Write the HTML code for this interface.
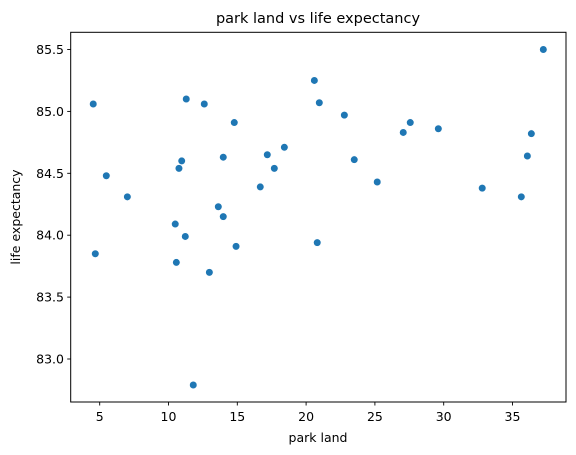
<!DOCTYPE html>
<html><head><meta charset="utf-8"><style>
html,body{margin:0;padding:0;background:#fff}
svg{display:block;font-family:"DejaVu Sans","Liberation Sans",sans-serif}
</style></head><body>
<svg id="chart" width="576" height="455" viewBox="0 0 576 455">
<text x="318" y="23" text-anchor="middle" font-size="14.5" fill="#000">park land vs life expectancy</text>
<text x="318" y="442" text-anchor="middle" font-size="12.5" fill="#000">park land</text>
<text transform="translate(20,217) rotate(-90)" text-anchor="middle" font-size="12.5" fill="#000">life expectancy</text>
<g id="ticks"></g>
<g id="points"></g>
<rect x="70.7" y="32.3" width="495.3" height="369.7" fill="none" stroke="#000" stroke-width="1"/>
</svg>
<script>
const parkLand = [4.53,11.29,12.60,14.78,10.96,13.98,10.76,5.48,7.01,13.62,13.98,10.49,11.22,14.91,4.68,10.57,12.97,11.80,
  37.24,20.60,20.96,22.78,27.57,27.06,29.61,36.37,36.08,18.42,17.18,17.69,23.50,16.67,25.17,32.80,35.64,20.81];
const lifeExpectancy = [85.06,85.10,85.06,84.91,84.60,84.63,84.54,84.48,84.31,84.23,84.15,84.09,83.99,83.91,83.85,83.78,83.70,82.79,
  85.50,85.25,85.07,84.97,84.91,84.83,84.86,84.82,84.64,84.71,84.65,84.54,84.61,84.39,84.43,84.38,84.31,83.94];
const xTicks = [5,10,15,20,25,30,35];
const yTicks = [83.0,83.5,84.0,84.5,85.0,85.5];
const yTickLabels = ["83.0","83.5","84.0","84.5","85.0","85.5"];

const NS = "http://www.w3.org/2000/svg";
function xs(v){ return 99.7 + (v - 5) * 13.76; }
function ys(v){ return 49.5 + (85.5 - v) * 123.8; }
const tg = document.getElementById('ticks');
const pg = document.getElementById('points');
function mk(tag, attrs, parent){ const e=document.createElementNS(NS,tag); for(const k in attrs) e.setAttribute(k,attrs[k]); parent.appendChild(e); return e; }

xTicks.forEach(function(t){
  const x = xs(t);
  const l = mk('line',{x1:x,x2:x,y1:402,y2:405.5,stroke:'#000','stroke-width':0.9},tg);
  
  
  const tx = mk('text',{x:x,y:421,'text-anchor':'middle','font-size':12.5,fill:'#000'},tg);
  tx.textContent = String(t);
  
  
});
yTicks.forEach(function(t,i){
  const y = ys(t);
  const l = mk('line',{x1:67.2,x2:70.7,y1:y,y2:y,stroke:'#000','stroke-width':0.9},tg);
  
  
  const tx = mk('text',{x:64,y:y+4.5,'text-anchor':'end','font-size':12.5,fill:'#000'},tg);
  tx.textContent = yTickLabels[i];
  
  
});
parkLand.forEach(function(v,i){
  const c = mk('circle',{cx:xs(v),cy:ys(lifeExpectancy[i]),r:3.8,fill:'#1f77b4',stroke:'#fff','stroke-width':0.6},pg);
  
  
});
</script>
</body></html>
